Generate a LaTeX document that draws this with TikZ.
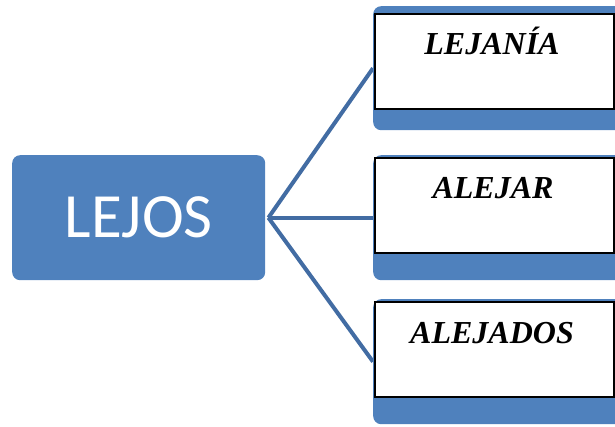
\documentclass[tikz,border=0pt]{standalone}
\usepackage{fontspec}
\setmainfont{Liberation Serif}
\newfontfamily\calibri{Carlito}
\definecolor{boxblue}{RGB}{79,129,189}
\definecolor{lineblue}{RGB}{66,108,163}
\pgfdeclarelayer{background}
\pgfsetlayers{background,main}

\begin{document}
\begin{tikzpicture}[x=1pt,y=-1pt,
    bluebox/.style={fill=boxblue, rounded corners=8pt, inner sep=0pt, anchor=north west},
    wordbox/.style={draw=black, line width=1.6pt, fill=white, inner sep=0pt, anchor=north west,
        minimum width=239pt, minimum height=95pt},
    word/.style={font=\fontsize{32}{36}\selectfont\bfseries\itshape, anchor=base},
    link/.style={draw=lineblue, line width=4pt}]
    \useasboundingbox (0,0) rectangle (615,427);
    %\draw[very thin,color=gray] (0,0) grid[step=50] (615,427);
    \node[bluebox, minimum width=253pt, minimum height=125pt, text=white,
        font=\calibri\fontsize{63}{70}\selectfont] (lejos) at (12,155) {LEJOS};
    \coordinate (hub) at ([xshift=3pt]lejos.east);
    % fondos azules a la derecha
    \node[bluebox, minimum width=252pt, minimum height=124pt] (lejaniabg) at (373,6) {};
    \node[bluebox, minimum width=252pt, minimum height=125pt] (alejarbg) at (373,155) {};
    \node[bluebox, minimum width=252pt, minimum height=125pt] (alejadosbg) at (373,299) {};
    \begin{pgfonlayer}{background}
    \draw[link] (hub) -- (lejaniabg.west);
    \draw[link] (hub) -- (alejarbg.west);
    \draw[link] (hub) -- (alejadosbg.west);
    \end{pgfonlayer}
    % recuadros blancos
    \node[wordbox] (lejaniabox) at (374,13) {};
    \node[wordbox] (alejarbox) at (374,157) {};
    \node[wordbox] (alejadosbox) at (374,301) {};
    \node[word] (lejania) at (492,55) {LEJANÍA};
    \node[word] (alejar) at (493,199) {ALEJAR};
    \node[word] (alejados) at (492,343) {ALEJADOS};
\end{tikzpicture}
\end{document}
